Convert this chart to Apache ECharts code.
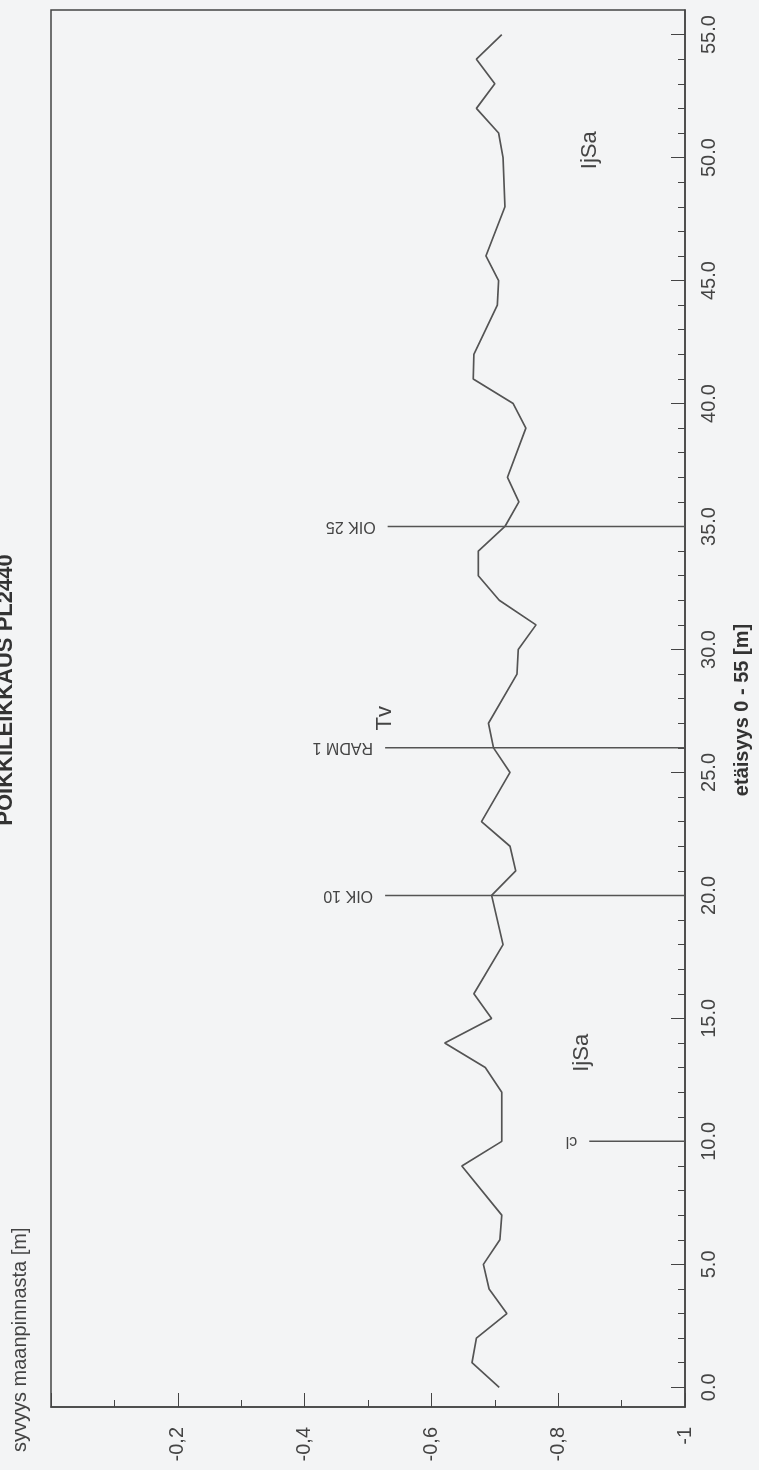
<!DOCTYPE html>
<html><head><meta charset="utf-8">
<script src="https://cdn.jsdelivr.net/npm/echarts@6/dist/echarts.min.js"></script>
<style>html,body{margin:0;padding:0;background:#f3f4f5}#c{width:759px;height:1470px}</style>
</head><body><div id="c"></div>
<script>
// ---- data ----
const distances = [0,1,2,3,4,5,6,7,9,10,12,13,14,15,16,18,20,21,22,23,25,26,27,29,30,31,32,33,34,35,36,37,39,40,41,42,44,45,46,48,50,51,52,53,54,55];
const depths = [-0.707,-0.664,-0.671,-0.719,-0.691,-0.682,-0.708,-0.711,-0.648,-0.711,-0.711,-0.685,-0.621,-0.695,-0.667,-0.713,-0.695,-0.733,-0.724,-0.679,-0.724,-0.698,-0.690,-0.735,-0.737,-0.765,-0.707,-0.674,-0.674,-0.716,-0.738,-0.720,-0.749,-0.729,-0.666,-0.667,-0.704,-0.706,-0.686,-0.716,-0.713,-0.706,-0.671,-0.700,-0.671,-0.711];
const refNames = ['cl','OIK 10','RADM 1','OIK 25'];
const refDistances = [10,20,26,35];
const refTopDepths = [-0.849,-0.527,-0.527,-0.531];
const layerNames = ['Tv','IjSa','IjSa'];
const layerDepths = [-0.527,-0.8375,-0.85];
const layerDistances = [27.2,13.6,50.3];
const distMajorTicks = [0,5,10,15,20,25,30,35,40,45,50,55];
const distMinorTicks = [0,1,2,3,4,5,6,7,8,9,10,11,12,13,14,15,16,17,18,19,20,21,22,23,24,25,26,27,28,29,30,31,32,33,34,35,36,37,38,39,40,41,42,43,44,45,46,47,48,49,50,51,52,53,54,55];
const depthLabelTicks = [-0.2,-0.4,-0.6,-0.8,-1];
const titleText = 'POIKKILEIKKAUS PL2440';
const depthAxisName = 'syvyys maanpinnasta [m]';
const distAxisName = 'etäisyys 0 - 55 [m]';

// ---- chart ----
const FONT = 'Liberation Sans, Arial, sans-serif';
const INK = '#444';
const LINE = '#545454';
const chart = echarts.init(document.getElementById('c'), null, {renderer:'canvas'});

const series = [{
  type:'line', name:'profile', xAxisIndex:0, yAxisIndex:0,
  data: distances.map((d,i)=>[depths[i], d]),
  showSymbol:false, symbol:'none', smooth:false,
  lineStyle:{color:LINE, width:1.7}, animation:false, silent:true
}];
refNames.forEach((n,i)=>{
  series.push({
    type:'line', name:n, xAxisIndex:0, yAxisIndex:0,
    data:[[refTopDepths[i], refDistances[i]], [-1, refDistances[i]]],
    showSymbol:false, symbol:'none',
    lineStyle:{color:LINE, width:1.5}, animation:false, silent:true
  });
});

const gridRect = {left:51, right:74, top:10, bottom:63, containLabel:false};
chart.setOption({
  backgroundColor:'#f3f4f5',
  animation:false,
  grid:[
    Object.assign({show:true, borderColor:INK, borderWidth:1.5, backgroundColor:'transparent'}, gridRect),
    Object.assign({show:false}, gridRect)
  ],
  xAxis:[{
    type:'value', gridIndex:0, min:-1, max:0, inverse:true, interval:0.2, position:'bottom',
    axisLine:{show:true, onZero:false, lineStyle:{color:INK, width:1.5}},
    axisTick:{show:true, inside:true, length:14, lineStyle:{color:INK, width:1}},
    minorTick:{show:true, splitNumber:2, length:7, lineStyle:{color:INK, width:1}},
    splitLine:{show:false}, minorSplitLine:{show:false},
    axisLabel:{customValues:depthLabelTicks, rotate:90, margin:20, fontSize:20, color:INK, fontFamily:FONT,
      formatter:v=>String(v).replace('.',',')}
  },{
    type:'value', gridIndex:1, min:-1, max:0, inverse:true, show:false
  }],
  yAxis:[{
    type:'value', gridIndex:0, min:-0.8, max:56, position:'right',
    axisLine:{show:true, onZero:false, lineStyle:{color:INK, width:1.5}},
    axisTick:{show:true, inside:true, length:14, customValues:distMajorTicks, lineStyle:{color:INK, width:1}},
    splitLine:{show:false},
    axisLabel:{customValues:distMajorTicks, rotate:90, margin:14, fontSize:20, color:INK, fontFamily:FONT,
      formatter:v=>Number(v).toFixed(1)}
  },{
    type:'value', gridIndex:1, min:-0.8, max:56, position:'right',
    axisLine:{show:false, onZero:false},
    axisTick:{show:true, inside:true, length:7, customValues:distMinorTicks, lineStyle:{color:INK, width:1}},
    splitLine:{show:false}, axisLabel:{show:false}
  }],
  series
});

// ---- annotations placed through the axes ----
const g = [];
refNames.forEach((n,i)=>{
  const p = chart.convertToPixel({xAxisIndex:0, yAxisIndex:0}, [refTopDepths[i], refDistances[i]]);
  g.push({type:'text', x:p[0]-12, y:p[1], rotation:Math.PI,
    style:{text:n, fontSize:16, fontFamily:FONT, fill:INK, align:'left', verticalAlign:'middle'}});
});
layerNames.forEach((n,i)=>{
  const p = chart.convertToPixel({xAxisIndex:0, yAxisIndex:0}, [layerDepths[i], layerDistances[i]]);
  g.push({type:'text', x:p[0], y:p[1], rotation:Math.PI/2,
    style:{text:n, fontSize:22, fontFamily:FONT, fill:INK, align:'center', verticalAlign:'middle'}});
});
g.push({type:'text', x:742, y:710, rotation:Math.PI/2,
  style:{text:distAxisName, fontSize:20, fontWeight:'bold', fontFamily:FONT, fill:'#333', align:'center', verticalAlign:'middle'}});
g.push({type:'text', x:20, y:1452, rotation:Math.PI/2,
  style:{text:depthAxisName, fontSize:20, fontFamily:FONT, fill:INK, align:'left', verticalAlign:'middle'}});
g.push({type:'text', x:6, y:690, rotation:Math.PI/2,
  style:{text:titleText, fontSize:22, fontWeight:'bold', fontFamily:FONT, fill:'#333', align:'center', verticalAlign:'middle'}});
chart.setOption({graphic:g});
</script>
</body></html>
